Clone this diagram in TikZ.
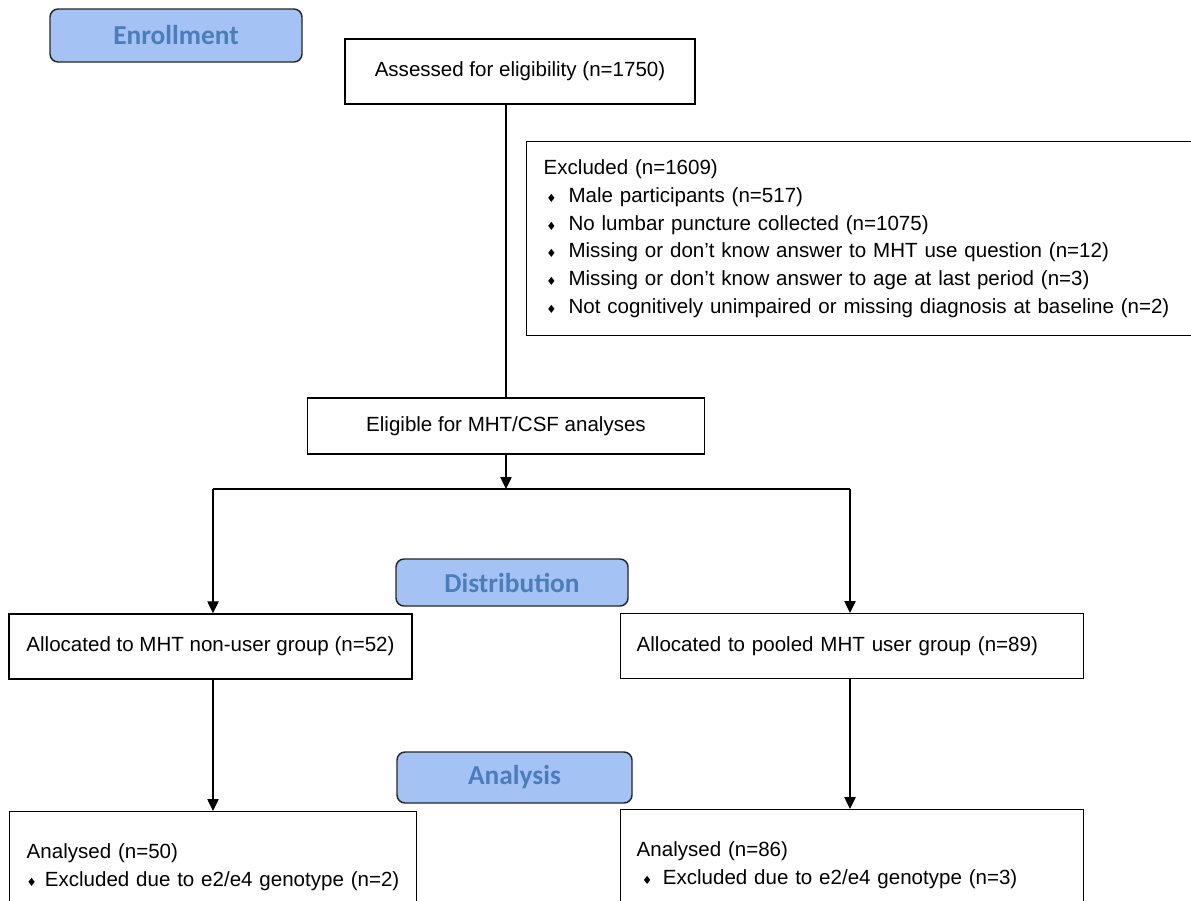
\documentclass[tikz,border=0pt]{standalone}
\usepackage{fontspec}
\setmainfont{Liberation Sans}
\newfontfamily\stagefont{Carlito}
\newfontfamily\symfont{DejaVu Sans}
\usetikzlibrary{arrows.meta}
\definecolor{stagefill}{HTML}{A4C2F4}
\definecolor{stagetext}{HTML}{4A7EBB}
\newcommand{\bul}[2]{\hspace*{#1}{\symfont\fontsize{8.5}{8.5}\selectfont ♦}\hspace{#2}}

\begin{document}
\begin{tikzpicture}[x=0.75pt,y=-0.75pt,>={Triangle[width=8.5pt,length=9pt]},
  box/.style={draw,line width=1.1pt,font=\fontsize{15.4}{20.8}\selectfont},
  stage/.style={draw=black!85,line width=1.1pt,fill=stagefill,rounded corners=6pt,text=stagetext,
    font=\stagefont\bfseries\fontsize{20.5}{24}\selectfont},
  link/.style={line width=1pt}]
	\useasboundingbox (0,0) rectangle (1191,900);
	\clip (0,0) rectangle (1191,900);
	% stage labels
	\node[stage,minimum width=189pt,minimum height=39.75pt] (enroll) at (176,35.5) {Enrollment};
	\node[stage,minimum width=174pt,minimum height=35.25pt] (distr) at (512,582.5) {Distribution};
	\node[stage,minimum width=176.25pt,minimum height=38.25pt] (analys) at (514.5,777.5) {Analysis};
	% boxes
	\node[box,minimum width=262.5pt,minimum height=48.75pt] (assess) at (520,71.5) {Assessed for eligibility (n=1750)};
	\node[box,anchor=north west,minimum height=145.5pt,text width=502.5pt,inner xsep=12.75pt,align=left] (excl) at (526,141)
		{Excluded (n=1609)\\
		\bul{2pt}{9pt}Male participants (n=517)\\
		\bul{2pt}{9pt}No lumbar puncture collected (n=1075)\\
		\bul{2pt}{9pt}Missing or don’t know answer to MHT use question (n=12)\\
		\bul{2pt}{9pt}Missing or don’t know answer to age at last period (n=3)\\
		\bul{2pt}{9pt}Not cognitively unimpaired or missing diagnosis at baseline (n=2)};
	\node[box,minimum width=297.75pt,minimum height=42pt] (elig) at (506,426) {Eligible for MHT/CSF analyses};
	\node[box,minimum width=302.25pt,minimum height=48.75pt] (alloc1) at (210.5,646.5) {Allocated to MHT non-user group (n=52)};
	\node[box,anchor=north west,minimum width=347.25pt,minimum height=48.75pt,text width=323.25pt,inner xsep=12pt,align=left] (alloc2) at (620,613)
		{Allocated to pooled MHT user group (n=89)};
	\node[box,anchor=north west,text width=279.75pt,inner xsep=12.75pt,inner ysep=24pt,align=left] (anal1) at (9,811)
		{Analysed (n=50)\\ \bul{0pt}{6pt}Excluded due to e2/e4 genotype (n=2)};
	\node[box,anchor=north west,text width=323.25pt,inner xsep=12pt,inner ysep=24pt,align=left] (anal2) at (620,809)
		{Analysed (n=86)\\ \bul{4pt}{8pt}Excluded due to e2/e4 genotype (n=3)};
	% connectors
	\coordinate (split) at (506,489);
	\coordinate (lsplit) at (213,489);
	\coordinate (rsplit) at (850,489);
	\draw[link] (assess.south -| elig) -- (elig.north);
	\draw[link,->] (elig.south) -- (split);
	\draw[link] (lsplit) -- (rsplit);
	\draw[link,->] (lsplit) -- (lsplit |- alloc1.north);
	\draw[link,->] (rsplit) -- (rsplit |- alloc2.north);
	\draw[link,->] (alloc1.south -| lsplit) -- (anal1.north -| lsplit);
	\draw[link,->] (alloc2.south -| rsplit) -- (anal2.north -| rsplit);
\end{tikzpicture}
\end{document}
